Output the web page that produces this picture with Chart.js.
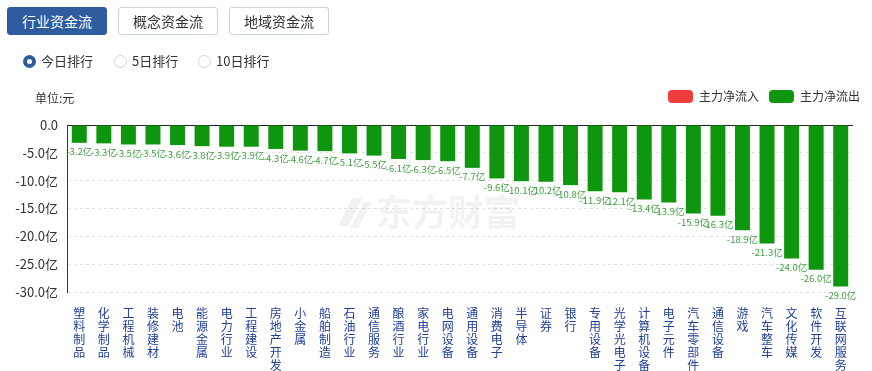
<!DOCTYPE html>
<html>
<head>
<meta charset="utf-8">
<script src="https://cdn.jsdelivr.net/npm/chart.js@4"></script>
<style>
  html, body { margin: 0; padding: 0; background: #fff; }
  body { width: 872px; height: 371px; position: relative; overflow: hidden;
         font-family: "Noto Sans CJK SC", "Noto Sans", sans-serif; color: #333; }
  .btn { position: absolute; top: 7px; height: 28px; width: 100px; box-sizing: border-box;
         border: 1px solid #c9d3df; border-radius: 3px; background: #fff;
         font-size: 14px; line-height: 26px; text-align: center; color: #333; }
  .btn.on { background: #2f5b9f; border-color: #2f5b9f; color: #fff; }
  .radio { position: absolute; top: 52px; font-size: 13px; line-height: 18px; color: #333; }
  .radio i { display: inline-block; width: 13px; height: 13px; border-radius: 50%; box-sizing: border-box;
             border: 1px solid #ccd3dc; vertical-align: -2px; margin-right: 5px; }
  .radio.on i { border: 4px solid #2f5b9f; }
  .unit { position: absolute; left: 35px; top: 89px; font-size: 12px; color: #333; }
  #wrap { position: absolute; left: 0; top: 0; width: 872px; height: 371px; }
</style>
</head>
<body>
<div id="wrap"><canvas id="flow"></canvas></div>
<div class="btn on" style="left:7px">行业资金流</div>
<div class="btn" style="left:118px">概念资金流</div>
<div class="btn" style="left:229px">地域资金流</div>
<div class="radio on" style="left:23px"><i></i>今日排行</div>
<div class="radio" style="left:114px"><i></i>5日排行</div>
<div class="radio" style="left:198px"><i></i>10日排行</div>
<div class="unit">单位:元</div>
<script>
const industries = ["塑料制品", "化学制品", "工程机械", "装修建材", "电池", "能源金属", "电力行业", "工程建设",
    "房地产开发", "小金属", "船舶制造", "石油行业", "通信服务", "酿酒行业", "家电行业", "电网设备",
    "通用设备", "消费电子", "半导体", "证券", "银行", "专用设备", "光学光电子", "计算机设备",
    "电子元件", "汽车零部件", "通信设备", "游戏", "汽车整车", "文化传媒", "软件开发", "互联网服务"];
// 主力净流出 (亿元)
const outflow = [-3.2, -3.3, -3.5, -3.5, -3.6, -3.8, -3.9, -3.9, -4.3, -4.6, -4.7, -5.1, -5.5, -6.1, -6.3, -6.5,
    -7.7, -9.6, -10.1, -10.2, -10.8, -11.9, -12.1, -13.4, -13.9, -15.9, -16.3, -18.9, -21.3, -24.0, -26.0, -29.0];
const inflow = industries.map(() => null);
const yTicks = [0, -5, -10, -15, -20, -25, -30];

const green = "#0e960e";
const red = "#f23d3d";
const font = "'Noto Sans CJK SC', 'Noto Sans', sans-serif";

const valueLabels = {
    id: "valueLabels",
    afterDatasetsDraw(chart) {
        const ctx = chart.ctx;
        const meta = chart.getDatasetMeta(1);
        ctx.save();
        ctx.font = "9.5px " + font;
        ctx.fillStyle = "#3f9f3f";
        ctx.textAlign = "center";
        ctx.textBaseline = "middle";
        meta.data.forEach((bar, i) => {
            ctx.fillText(outflow[i].toFixed(1) + "亿", bar.x, bar.y + 9);
        });
        ctx.restore();
    }
};

// faint brand watermark behind the bars
const watermark = {
    id: "watermark",
    beforeDatasetsDraw(chart) {
        const ctx = chart.ctx;
        ctx.save();
        ctx.fillStyle = "rgba(0,0,0,0.05)";
        ctx.beginPath();
        ctx.moveTo(352, 198); ctx.lineTo(362, 198); ctx.lineTo(348, 226); ctx.lineTo(338, 226); ctx.closePath();
        ctx.moveTo(364, 202); ctx.lineTo(372, 202); ctx.lineTo(358, 228); ctx.lineTo(350, 228); ctx.closePath();
        ctx.fill();
        ctx.font = "bold 36px " + font;
        ctx.textAlign = "center";
        ctx.textBaseline = "middle";
        ctx.fillText("东方财富", 448, 212);
        ctx.restore();
    }
};

// keep the legend up top-right while the plot starts lower
const legendShift = {
    id: "legendShift",
    afterLayout(chart) {
        const lg = chart.legend;
        lg.top -= 12;
        lg.bottom -= 12;
        lg.left += 17;
        lg.right += 17;
    }
};

new Chart(document.getElementById("flow"), {
    type: "bar",
    data: {
        labels: industries.map(s => s.split("")),
        datasets: [{
            label: "主力净流入",
            data: inflow,
            backgroundColor: red,
        }, {
            label: "主力净流出",
            data: outflow,
            backgroundColor: green,
        }]
    },
    options: {
        responsive: true,
        maintainAspectRatio: false,
        animation: false,
        layout: { padding: { top: 92, right: 19, left: 0, bottom: 0 } },
        datasets: { bar: { grouped: false, categoryPercentage: 1, barPercentage: 0.61 } },
        scales: {
            x: {
                grid: { display: false },
                border: { display: false },
                afterFit: (s) => { s.height = 79; },
                ticks: {
                    autoSkip: false,
                    maxRotation: 0,
                    padding: 7,
                    font: { family: font, size: 12, lineHeight: "13px" },
                    color: "#1f3f98",
                },
            },
            y: {
                min: -30,
                max: 0,
                afterFit: (s) => { s.width = 67; },
                afterBuildTicks: (s) => { s.ticks = yTicks.map(v => ({ value: v })); },
                grid: {
                    drawTicks: false,
                    color: (c) => c.tick && c.tick.value === 0 ? "#222" : "#e3e3e3",
                },
                border: {
                    color: "#333",
                    dash: (c) => c.tick && c.tick.value === 0 ? [] : [3, 3],
                },
                ticks: {
                    padding: 9,
                    callback: (v) => v === 0 ? "0.0" : v.toFixed(1) + "亿",
                    font: { family: font, size: 13 },
                    color: "#333",
                },
            },
        },
        plugins: {
            legend: {
                display: true,
                position: "top",
                align: "end",
                labels: {
                    boxWidth: 25,
                    boxHeight: 13,
                    padding: 10,
                    useBorderRadius: true,
                    borderRadius: 4,
                    font: { family: font, size: 12 },
                    color: "#333",
                },
            },
            tooltip: { enabled: false },
        }
    },
    plugins: [watermark, valueLabels, legendShift]
});
</script>
</body>
</html>
